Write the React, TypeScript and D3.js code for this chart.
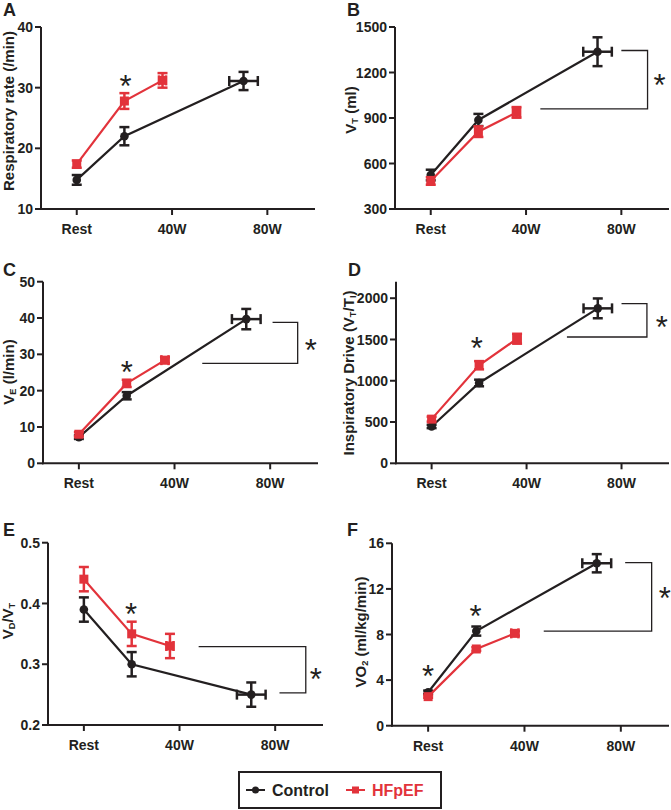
import React from "react";
import * as d3 from "d3";

// ---- shared x (workload) data ----
const xTickLabels = ["Rest", "40W", "80W"];
const xTickWatts = [0, 40, 80];
const ctrlWatts = [0, 20, 70];
const ctrlWattsErr = [0, 0, 6];
const hfWatts = [0, 20, 36];
const hfWattsErr = [0, 0, 1.5];

// ---- A: respiratory rate ----
const rrTicks = [10, 20, 30, 40];
const rrCtrl = [14.8, 22.0, 31.1];
const rrCtrlErr = [0.8, 1.5, 1.5];
const rrHf = [17.4, 27.8, 31.2];
const rrHfErr = [0.6, 1.3, 1.2];

// ---- B: tidal volume ----
const vtTicks = [300, 600, 900, 1200, 1500];
const vtCtrl = [524, 887, 1337];
const vtCtrlErr = [35, 40, 95];
const vtHf = [485, 810, 937];
const vtHfErr = [25, 35, 35];

// ---- C: minute ventilation ----
const veTicks = [0, 10, 20, 30, 40, 50];
const veCtrl = [7.2, 18.6, 39.7];
const veCtrlErr = [0.5, 1.0, 2.8];
const veHf = [8.0, 22.0, 28.4];
const veHfErr = [0.6, 1.0, 0.8];

// ---- D: inspiratory drive ----
const idTicks = [0, 500, 1000, 1500, 2000];
const idCtrl = [446, 973, 1877];
const idCtrlErr = [20, 40, 120];
const idHf = [535, 1188, 1509];
const idHfErr = [30, 50, 60];

// ---- E: dead space ratio ----
const vdTicks = [0.2, 0.3, 0.4, 0.5];
const vdCtrl = [0.39, 0.30, 0.25];
const vdCtrlErr = [0.02, 0.02, 0.02];
const vdHf = [0.44, 0.35, 0.33];
const vdHfErr = [0.02, 0.02, 0.02];

// ---- F: oxygen uptake ----
const voTicks = [0, 4, 8, 12, 16];
const voCtrl = [2.93, 8.3, 14.25];
const voCtrlErr = [0.15, 0.4, 0.8];
const voHf = [2.55, 6.73, 8.1];
const voHfErr = [0.1, 0.15, 0.2];

const legendLabels = ["Control", "HFpEF"];

const BLACK = "#231f20";
const RED = "#e2333b";
const FONT = "'Liberation Sans', Arial, Helvetica, sans-serif";
const xDomain = [-15, 100];

type Seg = { t: string; sub?: boolean };
type Bracket = { top: number; bottom: number; topX: number; vertX: number; botX: number; starX: number; starY: number };
type Cfg = {
  letter: string; letterX: number; letterY: number;
  x0: number; x1: number; yTop: number; yBot: number;
  yDomain: [number, number];
  ticks: number[];
  tickFmt: (v: number) => string;
  ctrl: number[]; ctrlErr: number[]; hf: number[]; hfErr: number[];
  label: Seg[]; labelX: number; labelY: number;
  stars: [number, number][];
  bracket: Bracket | null;
};

const panels: Cfg[] = [
  {
    letter: "A", letterX: 3, letterY: 16,
    x0: 41, x1: 315, yTop: 27, yBot: 209, yDomain: [10, 40], ticks: rrTicks, tickFmt: d3.format("d"),
    ctrl: rrCtrl, ctrlErr: rrCtrlErr, hf: rrHf, hfErr: rrHfErr,
    label: [{ t: "Respiratory rate (/min)" }], labelX: 8, labelY: 111,
    stars: [[20.5, 31.6]],
    bracket: null,
  },
  {
    letter: "B", letterX: 347, letterY: 16,
    x0: 395, x1: 669, yTop: 27, yBot: 209, yDomain: [300, 1500], ticks: vtTicks, tickFmt: d3.format("d"),
    ctrl: vtCtrl, ctrlErr: vtCtrlErr, hf: vtHf, hfErr: vtHfErr,
    label: [{ t: "V" }, { t: "T", sub: true }, { t: " (ml)" }], labelX: 350, labelY: 110,
    stars: [],
    bracket: { top: 1345, bottom: 960, topX: 80, vertX: 91, botX: 46, starX: 96, starY: 1170 },
  },
  {
    letter: "C", letterX: 3, letterY: 276,
    x0: 43, x1: 318, yTop: 281.7, yBot: 463.3, yDomain: [0, 50], ticks: veTicks, tickFmt: d3.format("d"),
    ctrl: veCtrl, ctrlErr: veCtrlErr, hf: veHf, hfErr: veHfErr,
    label: [{ t: "V" }, { t: "E", sub: true }, { t: " (l/min)" }], labelX: 8, labelY: 372,
    stars: [[20, 27.1]],
    bracket: { top: 38.8, bottom: 27.5, topX: 81, vertX: 91.5, botX: 51.6, starX: 97, starY: 33.2 },
  },
  {
    letter: "D", letterX: 348, letterY: 276,
    x0: 396, x1: 669, yTop: 281.7, yBot: 463.3, yDomain: [0, 2200], ticks: idTicks, tickFmt: d3.format("d"),
    ctrl: idCtrl, ctrlErr: idCtrlErr, hf: idHf, hfErr: idHfErr,
    label: [{ t: "Inspiratory Drive (V" }, { t: "T", sub: true }, { t: "/T" }, { t: "I", sub: true }, { t: ")" }],
    labelX: 348, labelY: 373,
    stars: [[19, 1493]],
    bracket: { top: 1935, bottom: 1530, topX: 80, vertX: 90.7, botX: 57, starX: 97, starY: 1745 },
  },
  {
    letter: "E", letterX: 3, letterY: 536,
    x0: 48, x1: 323, yTop: 542.7, yBot: 725, yDomain: [0.2, 0.5], ticks: vdTicks, tickFmt: d3.format(".1f"),
    ctrl: vdCtrl, ctrlErr: vdCtrlErr, hf: vdHf, hfErr: vdHfErr,
    label: [{ t: "V" }, { t: "D", sub: true }, { t: "/V" }, { t: "T", sub: true }], labelX: 7, labelY: 621,
    stars: [[19.7, 0.395]],
    bracket: { top: 0.329, bottom: 0.253, topX: 48, vertX: 92.8, botX: 81.8, starX: 97, starY: 0.288 },
  },
  {
    letter: "F", letterX: 347, letterY: 536,
    x0: 392, x1: 669, yTop: 543.3, yBot: 725.7, yDomain: [0, 16], ticks: voTicks, tickFmt: d3.format("d"),
    ctrl: voCtrl, ctrlErr: voCtrlErr, hf: voHf, hfErr: voHfErr,
    label: [{ t: "VO" }, { t: "2", sub: true }, { t: " (ml/kg/min)" }], labelX: 360, labelY: 632,
    stars: [[0, 5.06], [19.7, 10.3]],
    bracket: { top: 14.3, bottom: 8.3, topX: 81.8, vertX: 92.8, botX: 48, starX: 98.3, starY: 11.9 },
  },
];

function Label({ segs, fs }: { segs: Seg[]; fs: number }) {
  return (
    <>
      {segs.map((s, i) => {
        const prevSub = i > 0 && segs[i - 1].sub;
        let dy = 0;
        if (s.sub && !prevSub) dy = fs * 0.3;
        else if (!s.sub && prevSub) dy = -fs * 0.3;
        return (
          <tspan key={i} dy={dy} fontSize={s.sub ? fs * 0.62 : fs}>
            {s.t}
          </tspan>
        );
      })}
    </>
  );
}

function Star({ x, y }: { x: number; y: number }) {
  const fs = 31;
  return (
    <text x={x} y={y + fs * 0.6} textAnchor="middle" fontSize={fs} fontFamily={FONT} fill={BLACK}>
      *
    </text>
  );
}

function Series({ x, y, watts, wErr, vals, err, color, marker }: any) {
  const pts: [number, number][] = watts.map((w: number, i: number) => [w, vals[i]]);
  const line = d3.line<[number, number]>().x((d) => x(d[0])).y((d) => y(d[1]));
  const cap = 5;
  return (
    <g>
      <path d={line(pts) || ""} fill="none" stroke={color} strokeWidth={2.2} />
      {pts.map((p, i) => {
        const cx = x(p[0]);
        const cy = y(p[1]);
        const y1 = y(p[1] + err[i]);
        const y2 = y(p[1] - err[i]);
        const xl = x(p[0] - wErr[i]);
        const xr = x(p[0] + wErr[i]);
        return (
          <g key={i} stroke={color} strokeWidth={2.5} fill="none">
            <line x1={cx} x2={cx} y1={y1} y2={y2} />
            <line x1={cx - cap} x2={cx + cap} y1={y1} y2={y1} />
            <line x1={cx - cap} x2={cx + cap} y1={y2} y2={y2} />
            {wErr[i] > 0 && (
              <>
                <line x1={xl} x2={xr} y1={cy} y2={cy} />
                <line x1={xl} x2={xl} y1={cy - cap} y2={cy + cap} />
                <line x1={xr} x2={xr} y1={cy - cap} y2={cy + cap} />
              </>
            )}
          </g>
        );
      })}
      {pts.map((p, i) =>
        marker === "circle" ? (
          <circle key={"m" + i} cx={x(p[0])} cy={y(p[1])} r={4.3} fill={color} />
        ) : (
          <rect key={"m" + i} x={x(p[0]) - 4.5} y={y(p[1]) - 4.5} width={9} height={9} fill={color} />
        )
      )}
    </g>
  );
}

function Panel({ cfg }: { cfg: Cfg }) {
  const x = d3.scaleLinear().domain(xDomain).range([cfg.x0, cfg.x1]);
  const y = d3.scaleLinear().domain(cfg.yDomain).range([cfg.yBot, cfg.yTop]);
  const b = cfg.bracket;
  const tickLen = 6;
  return (
    <g fontFamily={FONT}>
      <text x={cfg.letterX} y={cfg.letterY} fontSize={18} fontWeight="bold" fill={BLACK}>
        {cfg.letter}
      </text>
      <line x1={cfg.x0} x2={cfg.x0} y1={cfg.yTop} y2={cfg.yBot + 1} stroke={BLACK} strokeWidth={2} />
      <line x1={cfg.x0 - 1} x2={cfg.x1} y1={cfg.yBot} y2={cfg.yBot} stroke={BLACK} strokeWidth={2} />
      {cfg.ticks.map((t) => (
        <g key={t}>
          <line x1={cfg.x0 - tickLen} x2={cfg.x0} y1={y(t)} y2={y(t)} stroke={BLACK} strokeWidth={2} />
          <text x={cfg.x0 - tickLen - 2} y={y(t)} dy="0.36em" textAnchor="end" fontSize={14} fontWeight="bold" fill={BLACK}>
            {cfg.tickFmt(t)}
          </text>
        </g>
      ))}
      {xTickWatts.map((w, i) => (
        <g key={w}>
          <line x1={x(w)} x2={x(w)} y1={cfg.yBot} y2={cfg.yBot + tickLen} stroke={BLACK} strokeWidth={2} />
          <text x={x(w)} y={cfg.yBot + 25} textAnchor="middle" fontSize={14} fontWeight="bold" fill={BLACK}>
            {xTickLabels[i]}
          </text>
        </g>
      ))}
      <text
        transform={`translate(${cfg.labelX},${cfg.labelY}) rotate(-90)`}
        textAnchor="middle"
        dominantBaseline="central"
        fontWeight="bold"
        fill={BLACK}
      >
        <Label segs={cfg.label} fs={15} />
      </text>
      <Series x={x} y={y} watts={ctrlWatts} wErr={ctrlWattsErr} vals={cfg.ctrl} err={cfg.ctrlErr} color={BLACK} marker="circle" />
      <Series x={x} y={y} watts={hfWatts} wErr={hfWattsErr} vals={cfg.hf} err={cfg.hfErr} color={RED} marker="square" />
      {cfg.stars.map((s, i) => (
        <Star key={i} x={x(s[0])} y={y(s[1])} />
      ))}
      {b && (
        <g>
          <path
            d={`M${x(b.topX)},${y(b.top)}H${x(b.vertX)}V${y(b.bottom)}H${x(b.botX)}`}
            fill="none"
            stroke={BLACK}
            strokeWidth={1.3}
          />
          <Star x={x(b.starX)} y={y(b.starY)} />
        </g>
      )}
    </g>
  );
}

export default function App() {
  return (
    <svg width={671} height={810} style={{ position: "absolute", left: 0, top: 0, background: "#fff" }}>
      <rect width={671} height={810} fill="#fff" />
      {panels.map((p) => (
        <Panel key={p.letter} cfg={p} />
      ))}
      <g fontFamily={FONT} fontWeight="bold" fontSize={16}>
        <rect x={239} y={772} width={202} height={36} fill="none" stroke={BLACK} strokeWidth={2} />
        <line x1={246} x2={265} y1={790} y2={790} stroke={BLACK} strokeWidth={2} />
        <circle cx={255.5} cy={790} r={3.5} fill={BLACK} />
        <text x={272} y={796} fill={BLACK}>{legendLabels[0]}</text>
        <line x1={346} x2={365} y1={790} y2={790} stroke={RED} strokeWidth={2} />
        <rect x={352} y={786.5} width={7} height={7} fill={RED} />
        <text x={372} y={796} fill={RED}>{legendLabels[1]}</text>
      </g>
    </svg>
  );
}
